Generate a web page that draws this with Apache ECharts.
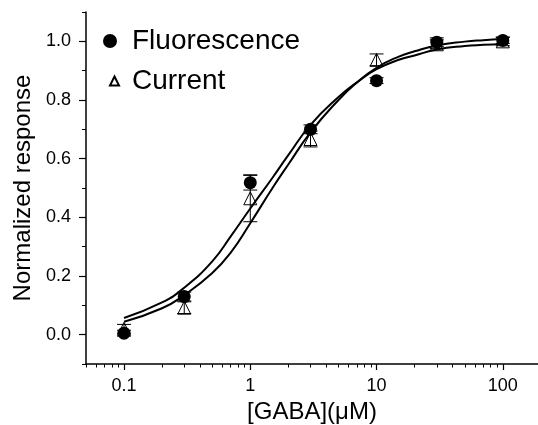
<!DOCTYPE html>
<html>
<head>
<meta charset="utf-8">
<script src="https://cdn.jsdelivr.net/npm/echarts@6/dist/echarts.min.js"></script>
<style>html,body{margin:0;padding:0;background:#fff;}#c{width:538px;height:425px;}</style>
</head>
<body>
<div id="c"></div>
<script>
// Measured data
const conc = [0.1, 0.3, 1, 3, 10, 30, 100];
const fluor = [0.005, 0.13, 0.518, 0.70, 0.866, 0.997, 1.003];
const fluorErr = [0.01, 0.015, 0.025, 0.015, 0.01, 0.015, 0.01];
const current = [0.02, 0.092, 0.465, 0.667, 0.937, 0.99, 1.0];
const currentErr = [0.015, 0.02, 0.08, 0.027, 0.02, 0.015, 0.015];

// Fitted curves
const fitX = [0.1, 0.2, 0.3, 0.5, 0.7, 1, 1.5, 2, 3, 5, 7, 10, 15, 20, 30, 50, 70, 100];
const fitFluor = [0.057, 0.11, 0.16, 0.25, 0.335, 0.43, 0.535, 0.612, 0.715, 0.81, 0.86, 0.905, 0.937, 0.952, 0.972, 0.984, 0.988, 0.991];
const fitCurrent = [0.044, 0.09, 0.135, 0.21, 0.28, 0.38, 0.50, 0.58, 0.69, 0.80, 0.86, 0.91, 0.948, 0.966, 0.986, 0.999, 1.004, 1.008];

// Tick labels
const xMajor = [0.1, 1, 10, 100];
const xMinor = [0.05, 0.06, 0.07, 0.08, 0.09, 0.2, 0.3, 0.4, 0.5, 0.6, 0.7, 0.8, 0.9, 2, 3, 4, 5, 6, 7, 8, 9, 20, 30, 40, 50, 60, 70, 80, 90];
const yMajor = [0, 0.2, 0.4, 0.6, 0.8, 1.0];
const yMinor = [-0.1, 0.1, 0.3, 0.5, 0.7, 0.9, 1.1];

const FONT = '"Liberation Sans", Arial, sans-serif';
const chart = echarts.init(document.getElementById('c'));

function pairs(xs, ys) { return xs.map((x, i) => [x, ys[i]]); }
function errData(xs, ys, es) { return xs.map((x, i) => [x, ys[i] - es[i], ys[i] + es[i]]); }

function errRender(params, api) {
  const x = api.value(0), lo = api.value(1), hi = api.value(2);
  const pLo = api.coord([x, lo]);
  const pHi = api.coord([x, hi]);
  const w = 7;
  const st = { stroke: '#000', lineWidth: 1 };
  return {
    type: 'group',
    children: [
      { type: 'line', shape: { x1: pLo[0], y1: pLo[1], x2: pHi[0], y2: pHi[1] }, style: st },
      { type: 'line', shape: { x1: pLo[0] - w, y1: pLo[1], x2: pLo[0] + w, y2: pLo[1] }, style: st },
      { type: 'line', shape: { x1: pHi[0] - w, y1: pHi[1], x2: pHi[0] + w, y2: pHi[1] }, style: st }
    ]
  };
}

const axisLineStyle = { color: '#000', width: 1.5 };

chart.setOption({
  animation: false,
  backgroundColor: '#fff',
  grid: { left: 86, right: 0, top: 12, bottom: 61, containLabel: false, outerBoundsMode: 'none' },
  legend: [
    {
      data: ['Fluorescence'], left: 103, top: 26, orient: 'vertical', padding: 0,
      itemWidth: 14, itemHeight: 14,
      textStyle: { fontFamily: FONT, fontSize: 28, color: '#000', lineHeight: 30, padding: [0, 0, 0, 10] }
    },
    {
      data: ['Current'], left: 109, top: 66, orient: 'vertical', padding: 0,
      itemWidth: 9, itemHeight: 9,
      textStyle: { fontFamily: FONT, fontSize: 28, color: '#000', lineHeight: 30, padding: [0, 0, 0, 8] }
    }
  ],
  xAxis: [
    {
      type: 'log', logBase: 10, min: 0.05, max: 190,
      name: '[GABA](\u03bcM)', nameLocation: 'middle', nameGap: 32,
      nameTextStyle: { fontFamily: FONT, fontSize: 24, color: '#000' },
      axisLine: { show: true, onZero: false, lineStyle: axisLineStyle },
      axisTick: { show: true, inside: false, length: 6, lineStyle: { color: '#000', width: 1.2 }, customValues: xMajor },
      axisLabel: { customValues: xMajor, fontFamily: FONT, fontSize: 18, color: '#000', margin: 13,
        formatter: v => String(v) },
      splitLine: { show: false },
      minorTick: { show: false }
    },
    {
      type: 'log', logBase: 10, min: 0.05, max: 190, position: 'bottom',
      axisLine: { show: false, onZero: false },
      axisTick: { show: true, inside: false, length: 3.5, lineStyle: { color: '#000', width: 1 }, customValues: xMinor },
      axisLabel: { show: false },
      splitLine: { show: false }
    }
  ],
  yAxis: [
    {
      type: 'value', min: -0.1, max: 1.1, interval: 0.1,
      name: 'Normalized response', nameLocation: 'middle', nameGap: 50,
      nameTextStyle: { fontFamily: FONT, fontSize: 24, color: '#000' },
      axisLine: { show: true, onZero: false, lineStyle: axisLineStyle },
      axisTick: { show: true, inside: false, length: 7, lineStyle: { color: '#000', width: 1.2 }, customValues: yMajor },
      axisLabel: { customValues: yMajor, fontFamily: FONT, fontSize: 18, color: '#000', margin: 15,
        formatter: v => Number(v).toFixed(1) },
      splitLine: { show: false }
    },
    {
      type: 'value', min: -0.1, max: 1.1, interval: 0.1, position: 'left',
      axisLine: { show: false, onZero: false },
      axisTick: { show: true, inside: false, length: 4, lineStyle: { color: '#000', width: 1 }, customValues: yMinor },
      axisLabel: { show: false },
      splitLine: { show: false }
    }
  ],
  series: [
    {
      name: 'fitFluor', type: 'line', smooth: true, showSymbol: false, symbol: 'none',
      data: pairs(fitX, fitFluor), lineStyle: { color: '#000', width: 2 }, z: 2, silent: true
    },
    {
      name: 'fitCurrent', type: 'line', smooth: true, showSymbol: false, symbol: 'none',
      data: pairs(fitX, fitCurrent), lineStyle: { color: '#000', width: 2 }, z: 2, silent: true
    },
    {
      name: 'errFluor', type: 'custom', renderItem: errRender,
      data: errData(conc, fluor, fluorErr), encode: { x: 0, y: [1, 2] }, z: 3
    },
    {
      name: 'errCurrent', type: 'custom', renderItem: errRender,
      data: errData(conc, current, currentErr), encode: { x: 0, y: [1, 2] }, z: 3
    },
    {
      name: 'Fluorescence', type: 'scatter', symbol: 'circle', symbolSize: 13,
      data: pairs(conc, fluor), itemStyle: { color: '#000', opacity: 1 }, z: 5
    },
    {
      name: 'Current', type: 'scatter', symbol: 'triangle', symbolSize: 13,
      data: pairs(conc, current),
      itemStyle: { color: 'rgba(255,255,255,0)', borderColor: '#000', borderWidth: 1, opacity: 1 }, z: 6
    }
  ]
});
</script>
</body>
</html>
